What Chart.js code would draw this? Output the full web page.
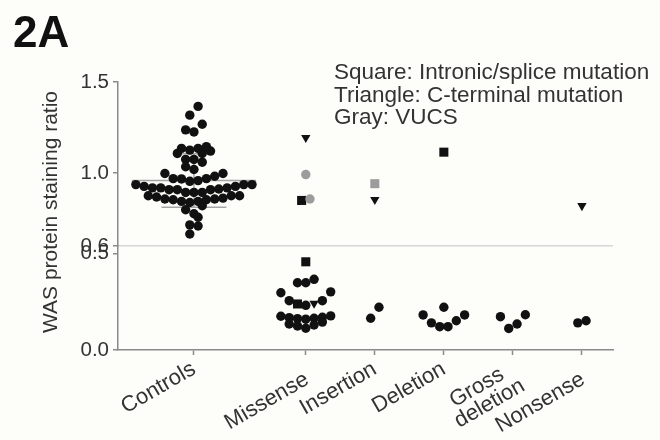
<!DOCTYPE html>
<html>
<head>
<meta charset="utf-8">
<script src="https://cdn.jsdelivr.net/npm/chart.js@4.4.1/dist/chart.umd.min.js"></script>
<style>
html, body { margin: 0; padding: 0; background: #fdfdf9; }
canvas { display: block; }
</style>
</head>
<body>
<canvas id="c" width="660" height="440"></canvas>
<script>
// ---------- data ----------
const categories = ['Controls', 'Missense', 'Insertion', 'Deletion', ['Gross', 'deletion'], 'Nonsense'];
const yTicksLower = [0.0, 0.5];
const yTicksUpper = [0.6, 1.0, 1.5];
const yAxisTitle = 'WAS protein staining ratio';
const chartLabel = '2A';
const notes = ['Square: Intronic/splice mutation', 'Triangle: C-terminal mutation', 'Gray: VUCS'];

const controlsCircles = [1.366, 1.318, 1.268, 1.237, 1.226,
  1.121, 1.136, 1.108, 1.126, 1.136, 1.145, 1.108,
  1.075, 1.060, 1.075, 1.035, 1.020, 0.998, 0.998, 0.970, 0.983, 0.970,
  0.968, 0.955, 0.937, 0.927, 0.919, 0.919, 0.909, 0.909, 0.909, 0.913, 0.919, 0.927, 0.937, 0.937, 0.959,
  0.894, 0.894, 0.876, 0.869, 0.858, 0.854, 0.845, 0.839, 0.845, 0.854, 0.858, 0.863, 0.876, 0.876, 0.894,
  0.821, 0.799, 0.777, 0.758, 0.716, 0.710, 0.666];
const controlsMean = [0.959];
const controlsSD = [0.147];

const missenseCircles = [0.367, 0.349, 0.349, 0.302, 0.297, 0.256, 0.256, 0.232,
  0.177, 0.175, 0.170, 0.168, 0.165, 0.163, 0.160, 0.145, 0.135, 0.130, 0.125, 0.113];
const missenseGrayCircles = [0.992, 0.858];
const missenseSquares = [0.850, 0.458, 0.239];
const missenseTriangles = [1.195, 0.242];

const insertionCircles = [0.165, 0.222];
const insertionGraySquares = [0.942];
const insertionTriangles = [0.854];

const deletionCircles = [0.182, 0.141, 0.222, 0.121, 0.121, 0.152, 0.182];
const deletionSquares = [1.115];

const grossDeletionCircles = [0.173, 0.183, 0.112, 0.135];

const nonsenseCircles = [0.152, 0.141];
const nonsenseTriangles = [0.821];

// ---------- layout / styling (not data) ----------
const FONT = '"Liberation Sans", Arial, Helvetica, sans-serif';
const TEXT = '#333333';
const AXIS = '#8a8a8a';
const columnCenters = [1.10, 2.72, 3.72, 4.72, 5.72, 6.72];
const BREAK_LOW = 0.54;                 // top of the lower segment
const SPACING = 8.3;                    // px between neighbours in a row
const ROW_H = { y: 19, y2: 9 };         // px height of a row bin per axis segment
const MAX_HALF = [80, 26, 26, 26, 26, 26]; // px max half-width of a column
const LOWERED_LABELS = [1, 5];          // tick labels that sit a little lower in the reference

const groups = [
  { cat: 0, shape: 'circle', gray: false, values: controlsCircles },
  { cat: 1, shape: 'circle', gray: false, values: missenseCircles },
  { cat: 1, shape: 'circle', gray: true, values: missenseGrayCircles },
  { cat: 1, shape: 'square', gray: false, values: missenseSquares },
  { cat: 1, shape: 'triangle', gray: false, values: missenseTriangles },
  { cat: 2, shape: 'circle', gray: false, values: insertionCircles },
  { cat: 2, shape: 'square', gray: true, values: insertionGraySquares },
  { cat: 2, shape: 'triangle', gray: false, values: insertionTriangles },
  { cat: 3, shape: 'circle', gray: false, values: deletionCircles },
  { cat: 3, shape: 'square', gray: false, values: deletionSquares },
  { cat: 4, shape: 'circle', gray: false, values: grossDeletionCircles },
  { cat: 5, shape: 'circle', gray: false, values: nonsenseCircles },
  { cat: 5, shape: 'triangle', gray: false, values: nonsenseTriangles },
];

const shapeStyle = {
  circle: { pointStyle: 'circle', radius: 4.7, rotation: 0 },
  square: { pointStyle: 'rect', radius: 6.4, rotation: 0 },
  triangle: { pointStyle: 'triangle', radius: 5.4, rotation: 180 },
};

// build marker datasets: one per (shape, colour, axis segment)
const dsMap = {};
groups.forEach(g => {
  g.values.forEach(v => {
    const axis = v >= 0.55 ? 'y2' : 'y';
    const key = g.shape + '|' + g.gray + '|' + axis;
    if (!dsMap[key]) {
      const st = shapeStyle[g.shape];
      const col = g.gray ? '#9c9c9c' : '#111111';
      dsMap[key] = {
        isMarker: true,
        yAxisID: axis,
        data: [],
        pointStyle: st.pointStyle,
        pointRadius: st.radius,
        pointRotation: st.rotation,
        pointBackgroundColor: col,
        pointBorderColor: col,
        pointBorderWidth: 0,
        showLine: false,
        order: 1,
      };
    }
    dsMap[key].data.push({ x: columnCenters[g.cat], y: v, cat: g.cat, axis });
  });
});
const datasets = Object.values(dsMap);

// mean and SD lines for the controls
const c0 = columnCenters[0];
const m = controlsMean[0], sd = controlsSD[0];
const lineStyle = { type: 'line', yAxisID: 'y2', borderColor: '#a5a5a5', borderWidth: 1.5, pointRadius: 0, showLine: true, fill: false, order: 5 };
datasets.push(Object.assign({}, lineStyle, { data: [{ x: c0 - 0.9, y: m }, { x: c0 + 0.9, y: m }] }));
datasets.push(Object.assign({}, lineStyle, { data: [{ x: c0 - 0.27, y: m + sd }, { x: c0 + 0.27, y: m + sd }] }));
datasets.push(Object.assign({}, lineStyle, { data: [{ x: c0 - 0.47, y: m - sd }, { x: c0 + 0.47, y: m - sd }] }));
datasets.push(Object.assign({}, lineStyle, { data: [{ x: c0, y: m - sd }, { x: c0, y: m + sd }] }));

const textPlugin = {
  id: 'texts',
  afterDraw(chart) {
    const ctx = chart.ctx;
    ctx.save();
    ctx.fillStyle = TEXT;
    ctx.font = '22.5px ' + FONT;
    ctx.textAlign = 'left';
    ctx.textBaseline = 'alphabetic';
    notes.forEach((t, i) => ctx.fillText(t, 334, 79 + i * 22.5));
    const a = chart.chartArea;
    ctx.font = '21px ' + FONT;
    ctx.translate(51, (a.top + a.bottom) / 2 - 4);
    ctx.rotate(-Math.PI / 2);
    ctx.textAlign = 'center';
    ctx.textBaseline = 'middle';
    ctx.fillText(yAxisTitle, 0, 0);
    ctx.restore();
  }
};

function xLabel(i) {
  const c = categories[i];
  if (Array.isArray(c)) return [c[0] + '  ', c[1]];          // centre the short first line
  if (LOWERED_LABELS.includes(i)) return ['', c + ' '];       // nudge the label down
  return c;
}

const yCommon = {
  type: 'linear',
  position: 'left',
  stack: 'v',
  afterFit: s => { s.width = 105; },
  border: { color: AXIS, width: 1.5 },
  grid: {
    drawOnChartArea: true,
    color: c => (c.tick && Math.abs(c.tick.value - 0.6) < 1e-6) ? '#d6d6d6' : 'rgba(0,0,0,0)',
    lineWidth: 1.5,
    tickColor: AXIS,
    tickLength: 5,
    tickWidth: 1.5,
  },
  ticks: {
    color: TEXT,
    font: { family: FONT, size: 20.5 },
    padding: 4,
    autoSkip: false,
    callback: v => Number(v).toFixed(1),
  },
};

const chart = new Chart(document.getElementById('c'), {
  type: 'scatter',
  data: { datasets },
  plugins: [textPlugin],
  options: {
    responsive: false,
    animation: false,
    events: [],
    layout: { padding: { left: 13, right: 47, top: 0, bottom: 0 } },
    plugins: {
      legend: { display: false },
      tooltip: { enabled: false },
      title: {
        display: true,
        text: chartLabel,
        align: 'start',
        color: '#111111',
        font: { family: FONT, size: 44, weight: 'bold', lineHeight: 1 },
        padding: { top: 13, bottom: 25 },
      },
    },
    scales: {
      x: {
        type: 'linear',
        min: 0,
        max: 7.17,
        afterBuildTicks: s => { s.ticks = columnCenters.map(v => ({ value: v })); },
        afterFit: s => { s.height = 90; s.paddingLeft = 0; s.paddingRight = 0; },
        border: { color: AXIS, width: 1.5 },
        grid: { drawOnChartArea: false, tickColor: AXIS, tickLength: 5, tickWidth: 1.5 },
        ticks: {
          color: TEXT,
          font: c => {
            const i = c.index;
            let lh = 1.0;
            if (LOWERED_LABELS.includes(i)) lh = 13 / 22;
            else if (i === 4) lh = 0.92;
            return { family: FONT, size: 22, lineHeight: lh };
          },
          autoSkip: false,
          minRotation: 30,
          maxRotation: 30,
          padding: 3,
          callback: (v, i) => xLabel(i),
        },
      },
      y: Object.assign({}, yCommon, {
        min: 0,
        max: BREAK_LOW,
        stackWeight: 104,
        afterBuildTicks: s => { s.ticks = yTicksLower.map(v => ({ value: v })); },
      }),
      y2: Object.assign({}, yCommon, {
        min: 0.6,
        max: 1.5,
        stackWeight: 164,
        afterBuildTicks: s => { s.ticks = yTicksUpper.map(v => ({ value: v })); },
      }),
    },
  },
});

// arrange points of each column in rows (column-scatter layout)
function placeRow(items, cat, unitPx) {
  const n = items.length;
  let step = SPACING;
  if (n > 1 && (n - 1) * step > 2 * MAX_HALF[cat]) step = 2 * MAX_HALF[cat] / (n - 1);
  const slots = [];
  for (let i = 0; i < n; i++) slots.push((i - (n - 1) / 2) * step);
  slots.sort((a, b) => (Math.abs(a) - Math.abs(b)) || (a - b));
  items.sort((a, b) => b.py - a.py);
  items.forEach((q, k) => { q.p.x = columnCenters[cat] + slots[k] / unitPx; });
}

function arrangeColumns(ch) {
  const xs = ch.scales.x;
  const unitPx = xs.getPixelForValue(1) - xs.getPixelForValue(0);
  const groupsByKey = {};
  ch.data.datasets.forEach(ds => {
    if (!ds.isMarker) return;
    const sc = ch.scales[ds.yAxisID];
    ds.data.forEach(p => {
      const key = p.cat + '|' + p.axis;
      (groupsByKey[key] = groupsByKey[key] || []).push({ p, py: sc.getPixelForValue(p.y) });
    });
  });
  Object.keys(groupsByKey).forEach(key => {
    const [catStr, axis] = key.split('|');
    const cat = Number(catStr);
    const pts = groupsByKey[key].sort((a, b) => b.py - a.py);
    const rows = [];
    let cur = null;
    pts.forEach(q => {
      if (!cur || cur.start - q.py >= ROW_H[axis]) { cur = { start: q.py, items: [] }; rows.push(cur); }
      cur.items.push(q);
    });
    const capacity = Math.floor(2 * MAX_HALF[cat] / SPACING) + 1;
    rows.forEach(r => {
      if (r.items.length <= capacity) { placeRow(r.items, cat, unitPx); return; }
      // overflowing row: wrap into layers, highest values first
      const sorted = r.items.slice().sort((a, b) => a.py - b.py);
      for (let s = 0; s < sorted.length; s += capacity) placeRow(sorted.slice(s, s + capacity), cat, unitPx);
    });
  });
  ch.update('none');
}
arrangeColumns(chart);
</script>
</body>
</html>
